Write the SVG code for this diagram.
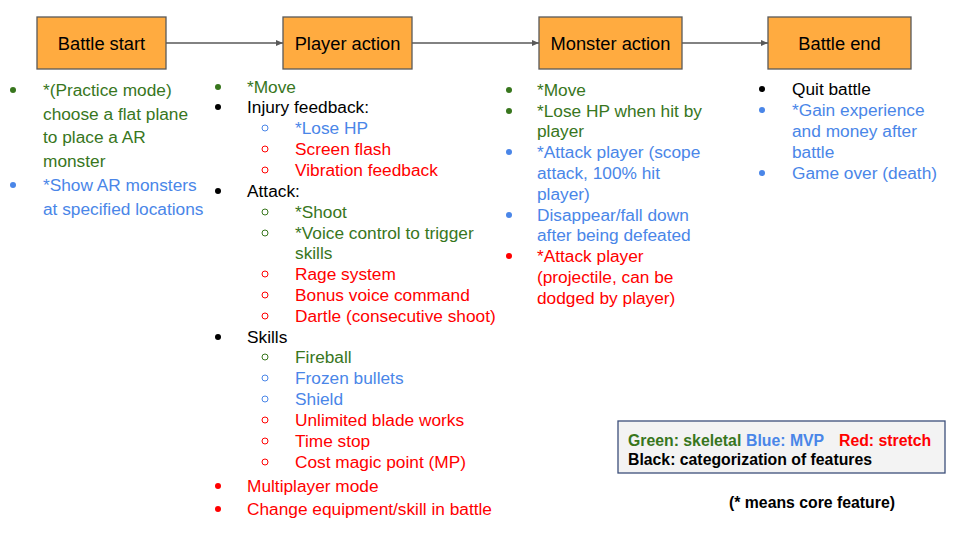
<svg xmlns="http://www.w3.org/2000/svg" width="960" height="540" viewBox="0 0 960 540">
<defs>
<marker id="ah" markerWidth="8" markerHeight="6" refX="7" refY="3" orient="auto" markerUnits="userSpaceOnUse">
<path d="M0,0 L7,3 L0,6 Z" fill="#595959"/>
</marker>
<style>
.box{fill:#ffab40;stroke:#595959;stroke-width:1.3}
.bl{font-family:"Liberation Sans",Arial,sans-serif;font-size:18.3px;fill:#000;text-anchor:middle}
.t{font-family:"Liberation Sans",Arial,sans-serif;font-size:17.3px}
.g{fill:#38761d}.b{fill:#4a86e8}.r{fill:#ff0000}.k{fill:#000}
.og{fill:none;stroke:#38761d}.ob{fill:none;stroke:#4a86e8}.or{fill:none;stroke:#ff0000}
.lg{font-family:"Liberation Sans",Arial,sans-serif;font-size:15.8px;font-weight:bold}
.edge{stroke:#595959;stroke-width:1.3;fill:none;marker-end:url(#ah)}
</style>
</defs>
<rect width="960" height="540" fill="#fff"/>
<g id="connectors">
<line class="edge" x1="166" y1="43" x2="283" y2="43"/>
<line class="edge" x1="412" y1="43" x2="539" y2="43"/>
<line class="edge" x1="682" y1="43" x2="768" y2="43"/>
</g>
<g id="battle-start"><rect class="box" x="37" y="17" width="129" height="52"/><text class="bl" x="101.5" y="50">Battle start</text></g>
<g id="player-action"><rect class="box" x="283" y="17" width="129" height="52"/><text class="bl" x="347.5" y="50">Player action</text></g>
<g id="monster-action"><rect class="box" x="539" y="17" width="143" height="52"/><text class="bl" x="610.5" y="50">Monster action</text></g>
<g id="battle-end"><rect class="box" x="768" y="17" width="143" height="52"/><text class="bl" x="839.5" y="50">Battle end</text></g>

<g id="list-battle-start" class="t">
<circle class="g" cx="13" cy="90" r="3"/>
<text class="g" x="43" y="96">*(Practice mode)</text>
<text class="g" x="43" y="120">choose a flat plane</text>
<text class="g" x="43" y="143">to place a AR</text>
<text class="g" x="43" y="167">monster</text>
<circle class="b" cx="13" cy="185" r="3"/>
<text class="b" x="43" y="191">*Show AR monsters</text>
<text class="b" x="43" y="215">at specified locations</text>
</g>

<g id="list-player-action" class="t">
<circle class="g" cx="218" cy="87" r="3"/><text class="g" x="247" y="93">*Move</text>
<circle class="k" cx="218" cy="107" r="3"/><text class="k" x="247" y="113">Injury feedback:</text>
<circle class="ob" cx="265" cy="128" r="3"/><text class="b" x="295" y="134">*Lose HP</text>
<circle class="or" cx="265" cy="149" r="3"/><text class="r" x="295" y="155">Screen flash</text>
<circle class="or" cx="265" cy="170" r="3"/><text class="r" x="295" y="176">Vibration feedback</text>
<circle class="k" cx="218" cy="191" r="3"/><text class="k" x="247" y="197">Attack:</text>
<circle class="og" cx="265" cy="212" r="3"/><text class="g" x="295" y="218">*Shoot</text>
<circle class="og" cx="265" cy="233" r="3"/><text class="g" x="295" y="239">*Voice control to trigger</text>
<text class="g" x="295" y="259">skills</text>
<circle class="or" cx="265" cy="274" r="3"/><text class="r" x="295" y="280">Rage system</text>
<circle class="or" cx="265" cy="295" r="3"/><text class="r" x="295" y="301">Bonus voice command</text>
<circle class="or" cx="265" cy="316" r="3"/><text class="r" x="295" y="322">Dartle (consecutive shoot)</text>
<circle class="k" cx="218" cy="337" r="3"/><text class="k" x="247" y="343">Skills</text>
<circle class="og" cx="265" cy="357" r="3"/><text class="g" x="295" y="363">Fireball</text>
<circle class="ob" cx="265" cy="378" r="3"/><text class="b" x="295" y="384">Frozen bullets</text>
<circle class="ob" cx="265" cy="399" r="3"/><text class="b" x="295" y="405">Shield</text>
<circle class="or" cx="265" cy="420" r="3"/><text class="r" x="295" y="426">Unlimited blade works</text>
<circle class="or" cx="265" cy="441" r="3"/><text class="r" x="295" y="447">Time stop</text>
<circle class="or" cx="265" cy="462" r="3"/><text class="r" x="295" y="468">Cost magic point (MP)</text>
<circle class="r" cx="218" cy="486" r="3"/><text class="r" x="247" y="492">Multiplayer mode</text>
<circle class="r" cx="218" cy="509" r="3"/><text class="r" x="247" y="515">Change equipment/skill in battle</text>
</g>

<g id="list-monster-action" class="t">
<circle class="g" cx="509" cy="90" r="3"/><text class="g" x="537" y="96">*Move</text>
<circle class="g" cx="509" cy="111" r="3"/><text class="g" x="537" y="117">*Lose HP when hit by</text>
<text class="g" x="537" y="137">player</text>
<circle class="b" cx="509" cy="152" r="3"/><text class="b" x="537" y="158">*Attack player (scope</text>
<text class="b" x="537" y="179">attack, 100% hit</text>
<text class="b" x="537" y="200">player)</text>
<circle class="b" cx="509" cy="215" r="3"/><text class="b" x="537" y="221">Disappear/fall down</text>
<text class="b" x="537" y="241">after being defeated</text>
<circle class="r" cx="509" cy="256" r="3"/><text class="r" x="537" y="262">*Attack player</text>
<text class="r" x="537" y="283">(projectile, can be</text>
<text class="r" x="537" y="304">dodged by player)</text>
</g>

<g id="list-battle-end" class="t">
<circle class="k" cx="762" cy="89" r="3"/><text class="k" x="792" y="95">Quit battle</text>
<circle class="b" cx="762" cy="110" r="3"/><text class="b" x="792" y="116">*Gain experience</text>
<text class="b" x="792" y="137">and money after</text>
<text class="b" x="792" y="158">battle</text>
<circle class="b" cx="762" cy="173" r="3"/><text class="b" x="792" y="179">Game over (death)</text>
</g>

<g id="legend">
<rect x="618" y="421" width="327" height="52" fill="#f3f3f3" stroke="#3c4f7a" stroke-width="1.3"/>
<text class="lg g" x="628" y="446">Green: skeletal</text>
<text class="lg b" x="746" y="446">Blue: MVP</text>
<text class="lg r" x="839" y="446">Red: stretch</text>
<text class="lg k" x="628" y="465">Black: categorization of features</text>
</g>
<g id="note"><text class="lg k" x="729" y="508">(* means core feature)</text></g>
</svg>
